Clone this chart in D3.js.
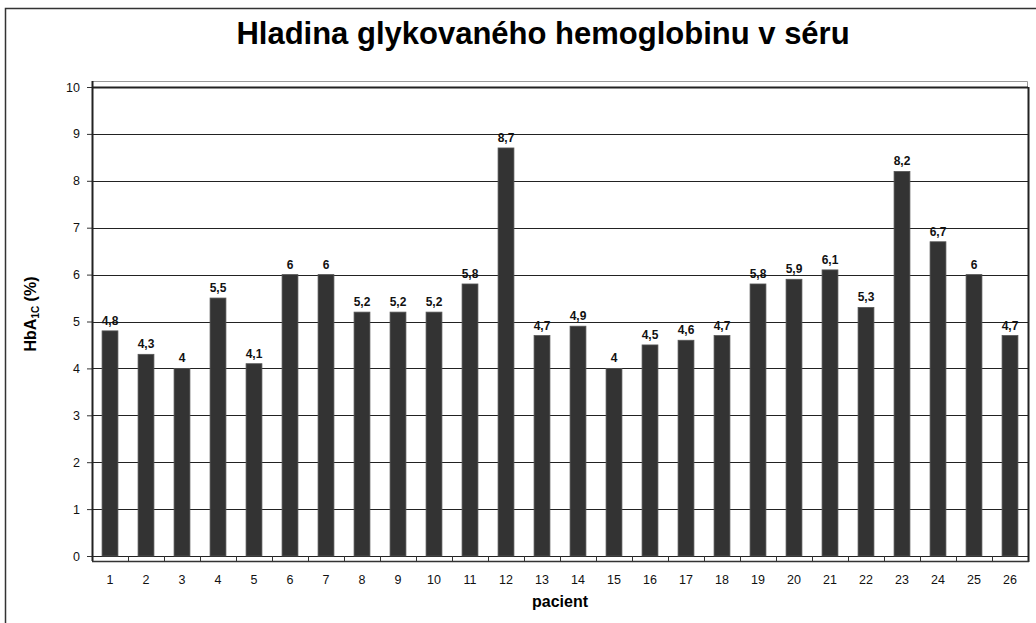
<!DOCTYPE html>
<html><head><meta charset="utf-8">
<script src="https://cdn.jsdelivr.net/npm/d3@7"></script>
<style>body{margin:0;background:#fff}svg{display:block}</style>
</head><body>
<svg id="c" width="1036" height="623"></svg>
<script>
const categories = d3.range(1, 27).map(String);
const values = [4.8, 4.3, 4, 5.5, 4.1, 6, 6, 5.2, 5.2, 5.2, 5.8, 8.7, 4.7, 4.9, 4, 4.5, 4.6, 4.7, 5.8, 5.9, 6.1, 5.3, 8.2, 6.7, 6, 4.7];
const yTicks = [0, 1, 2, 3, 4, 5, 6, 7, 8, 9, 10];
const title = "Hladina glykovaného hemoglobinu v séru";
const xTitle = "pacient";

const svg = d3.select("#c");
const font = "Liberation Sans, Arial, sans-serif";
const L = 92, R = 1028, T = 87, B = 556;

// outer frame
svg.append("rect").attr("x", 5.5).attr("y", 8.5).attr("width", 1060).attr("height", 640)
  .attr("fill", "none").attr("stroke", "#333").attr("stroke-width", 1.5);

const x = d3.scaleBand().domain(categories).range([L, R]).paddingInner(0.56).paddingOuter(0.28);
const xb = d3.scaleBand().domain(categories).range([L, R]);
const y = d3.scaleLinear().domain([0, 10]).range([B, T]);

// plot box top/right light line
svg.append("path").attr("d", `M${L},81.5H${R - 0.5}V${T}`).attr("fill", "none").attr("stroke", "#999").attr("stroke-width", 1);

// gridlines
svg.append("g").selectAll("line").data(yTicks).join("line")
  .attr("x1", L).attr("x2", R).attr("y1", d => Math.round(y(d)) + 0.5).attr("y2", d => Math.round(y(d)) + 0.5)
  .attr("stroke", "#222").attr("stroke-width", d => d === 10 ? 2 : 1);

// y axis
const ya = svg.append("g").attr("transform", `translate(${L},0)`)
  .call(d3.axisLeft(y).tickValues(yTicks).tickSize(5).tickPadding(7).tickFormat(d3.format("d")));
ya.select(".domain").remove();
ya.selectAll(".tick line").attr("stroke", "#333");
ya.selectAll("text").attr("font-family", font).attr("font-size", 12.5).attr("fill", "#111");

// left axis line
svg.append("line").attr("x1", L + 0.5).attr("x2", L + 0.5).attr("y1", 81).attr("y2", 561)
  .attr("stroke", "#222").attr("stroke-width", 2);
// right line
svg.append("line").attr("x1", R + 0.5).attr("x2", R + 0.5).attr("y1", T).attr("y2", 562)
  .attr("stroke", "#222").attr("stroke-width", 2);

// bars
svg.append("g").selectAll("rect").data(values).join("rect")
  .attr("x", (d, i) => x(categories[i])).attr("width", x.bandwidth())
  .attr("y", d => y(d)).attr("height", d => y(0) - y(d))
  .attr("fill", "#333").attr("stroke", "#555").attr("stroke-width", 0.8);

// x axis bottom line + ticks
svg.append("line").attr("x1", L).attr("x2", R + 1).attr("y1", 561.5).attr("y2", 561.5)
  .attr("stroke", "#333").attr("stroke-width", 1.5);
svg.append("g").selectAll("line").data(categories.slice(1)).join("line")
  .attr("x1", d => Math.round(xb(d)) + 0.5).attr("x2", d => Math.round(xb(d)) + 0.5)
  .attr("y1", 556).attr("y2", 562).attr("stroke", "#333");

// x labels
svg.append("g").selectAll("text").data(categories).join("text")
  .attr("x", d => xb(d) + xb.bandwidth() / 2).attr("y", 584)
  .attr("text-anchor", "middle").attr("font-family", font).attr("font-size", 12.5).attr("fill", "#111")
  .text(d => d);

// value labels
const fmt = v => String(v).replace(".", ",");
svg.append("g").selectAll("text").data(values).join("text")
  .attr("x", (d, i) => x(categories[i]) + x.bandwidth() / 2).attr("y", d => y(d) - 6)
  .attr("text-anchor", "middle").attr("font-family", font).attr("font-size", 12).attr("font-weight", "bold").attr("fill", "#111")
  .text(fmt);

// title
svg.append("text").attr("x", 543).attr("y", 44).attr("text-anchor", "middle")
  .attr("font-family", font).attr("font-size", 31).attr("font-weight", "bold").attr("fill", "#000").text(title);

// x title
svg.append("text").attr("x", 560).attr("y", 607).attr("text-anchor", "middle")
  .attr("font-family", font).attr("font-size", 16).attr("font-weight", "bold").attr("fill", "#000").text(xTitle);

// y title
const yt = svg.append("text").attr("transform", "translate(36,314) rotate(-90)").attr("text-anchor", "middle")
  .attr("font-family", font).attr("font-size", 16).attr("font-weight", "bold").attr("fill", "#000");
yt.append("tspan").text("HbA");
yt.append("tspan").attr("font-size", 10).attr("dy", 3).text("1C");
yt.append("tspan").attr("dy", -3).text(" (%)");
</script>
</body></html>
